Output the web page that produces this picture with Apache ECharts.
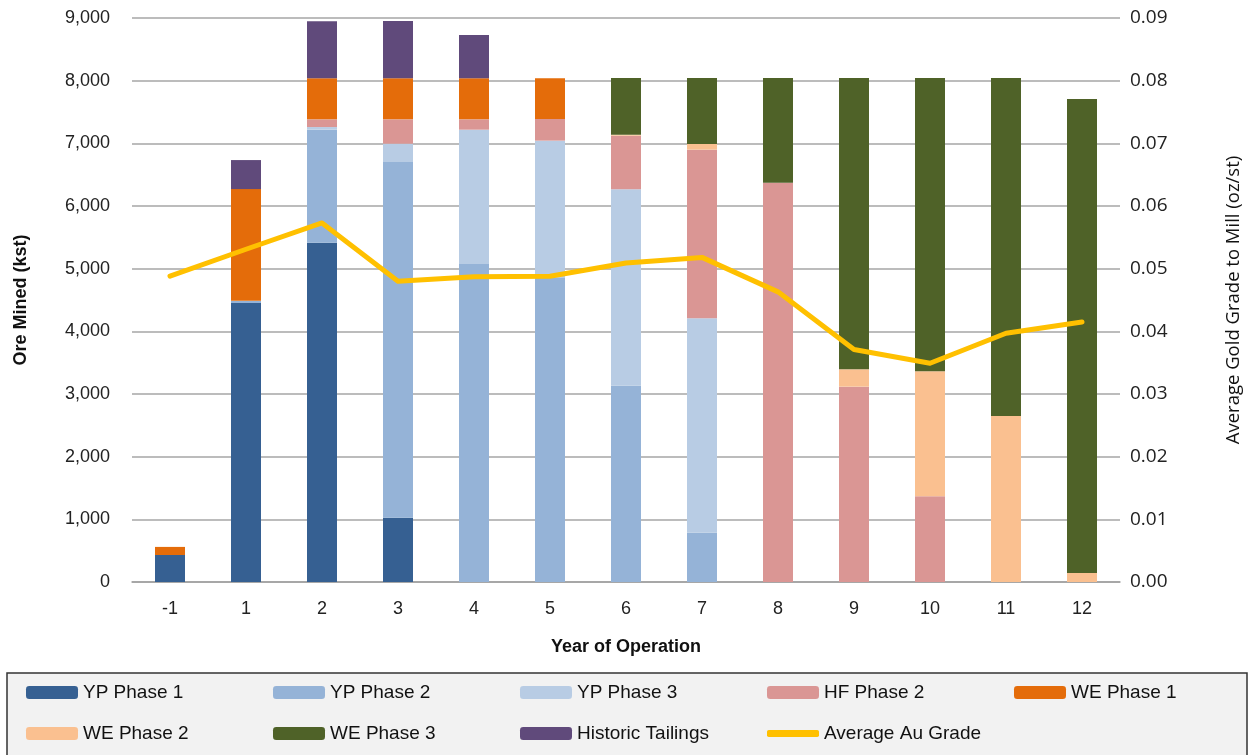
<!DOCTYPE html>
<html>
<head>
<meta charset="utf-8">
<script src="https://cdn.jsdelivr.net/npm/echarts@6/dist/echarts.min.js"></script>
<style>
  html, body { margin: 0; padding: 0; background: #fff; }
  #chart { width: 1251px; height: 755px; }
</style>
</head>
<body>
<div id="chart"></div>
<script>
// years of operation (x axis)
const years = ['-1', '1', '2', '3', '4', '5', '6', '7', '8', '9', '10', '11', '12'];

// ore mined per source, kst
const ypPhase1 = [431, 4452, 5414, 1026, 0, 0, 0, 0, 0, 0, 0, 0, 0];
const ypPhase2 = [0, 35, 1804, 5676, 5074, 4851, 3133, 787, 0, 0, 0, 0, 0];
const ypPhase3 = [0, 0, 42, 292, 2144, 2192, 3133, 3421, 0, 0, 0, 0, 0];
const hfPhase2 = [0, 0, 123, 389, 165, 345, 856, 2691, 6372, 3117, 1368, 0, 0];
const wePhase1 = [129, 1783, 654, 654, 654, 649, 0, 0, 0, 0, 0, 0, 0];
const wePhase2 = [0, 0, 0, 0, 0, 0, 16, 90, 0, 277, 1994, 2649, 144];
const wePhase3 = [0, 0, 0, 0, 0, 0, 904, 1053, 1670, 4648, 4680, 5393, 7565];
const historicTailings = [0, 463, 910, 915, 691, 0, 0, 0, 0, 0, 0, 0, 0];

// average gold grade to mill, oz/st
const avgAuGrade = [0.0488, 0.0531, 0.0573, 0.0480, 0.0487, 0.0488, 0.0509, 0.0518, 0.0463, 0.0371, 0.0349, 0.0397, 0.0415];

const barSeries = [
  { name: 'YP Phase 1', data: ypPhase1, color: '#366092' },
  { name: 'YP Phase 2', data: ypPhase2, color: '#95b3d7' },
  { name: 'YP Phase 3', data: ypPhase3, color: '#b8cce4' },
  { name: 'HF Phase 2', data: hfPhase2, color: '#da9694' },
  { name: 'WE Phase 1', data: wePhase1, color: '#e46c0a' },
  { name: 'WE Phase 2', data: wePhase2, color: '#fac090' },
  { name: 'WE Phase 3', data: wePhase3, color: '#4f6228' },
  { name: 'Historic Tailings', data: historicTailings, color: '#604a7b' },
];

const lineName = 'Average Au Grade';
const legendNames = barSeries.map(s => s.name).concat([lineName]);

const FONT = '"Liberation Sans", Arial, sans-serif';
const FONT_R = '"Open Sans", "Noto Sans", sans-serif';

const chart = echarts.init(document.getElementById('chart'));

// one legend per item so the columns line up like the original
const legends = legendNames.map((name, i) => {
  const isLine = name === lineName;
  return {
    data: [isLine ? { name, icon: 'roundRect' } : name],
    left: 26 + (i % 5) * 247,
    top: i < 5 ? 683 : 724,
    padding: 0,
    itemWidth: 52,
    itemHeight: isLine ? 7 : 13,
    itemGap: 0,
    textStyle: { fontFamily: FONT, fontSize: 19, color: '#111' },
  };
});

const series = barSeries.map(s => ({
  name: s.name,
  type: 'bar',
  stack: 'ore',
  barWidth: 30,
  data: s.data,
  itemStyle: { color: s.color },
  emphasis: { disabled: true },
}));

series.push({
  name: lineName,
  type: 'line',
  yAxisIndex: 1,
  data: avgAuGrade,
  symbol: 'none',
  lineStyle: { color: '#ffc000', width: 5, join: 'round', cap: 'round' },
  itemStyle: { color: '#ffc000' },
  z: 5,
});

chart.setOption({
  animation: false,
  grid: { left: 132, right: 131, top: 18, bottom: 173 },
  graphic: [{
    type: 'rect',
    shape: { x: 7, y: 673, width: 1240, height: 90 },
    style: { fill: '#f2f2f2', stroke: '#333', lineWidth: 1.5 },
    z: -1,
  }],
  legend: legends,
  xAxis: {
    type: 'category',
    data: years,
    name: 'Year of Operation',
    nameLocation: 'middle',
    nameGap: 56,
    nameTextStyle: { fontFamily: FONT, fontSize: 18, fontWeight: 'bold', color: '#111' },
    axisLine: { lineStyle: { color: '#a0a0a0', width: 1.5 } },
    axisTick: { show: false },
    axisLabel: { fontFamily: FONT, fontSize: 18, color: '#222', margin: 18 },
  },
  yAxis: [{
    type: 'value',
    min: 0,
    max: 9000,
    interval: 1000,
    name: 'Ore Mined (kst)',
    nameLocation: 'middle',
    nameGap: 102,
    nameTextStyle: { fontFamily: FONT, fontSize: 18, fontWeight: 'bold', color: '#111' },
    axisLine: { show: false },
    axisTick: { show: false },
    axisLabel: { fontFamily: FONT, fontSize: 18, color: '#222', margin: 22 },
    splitLine: { lineStyle: { color: '#a6a6a6', width: 1.5 } },
  }, {
    type: 'value',
    min: 0,
    max: 0.09,
    interval: 0.01,
    name: 'Average Gold Grade to Mill (oz/st)',
    nameLocation: 'middle',
    nameGap: 104,
    nameTextStyle: { fontFamily: FONT_R, fontSize: 18.5, color: '#111' },
    axisLine: { show: false },
    axisTick: { show: false },
    axisLabel: {
      fontFamily: FONT_R, fontSize: 19, color: '#222', margin: 10,
      formatter: v => v.toFixed(2),
    },
    splitLine: { show: false },
  }],
  series,
});
</script>
</body>
</html>
